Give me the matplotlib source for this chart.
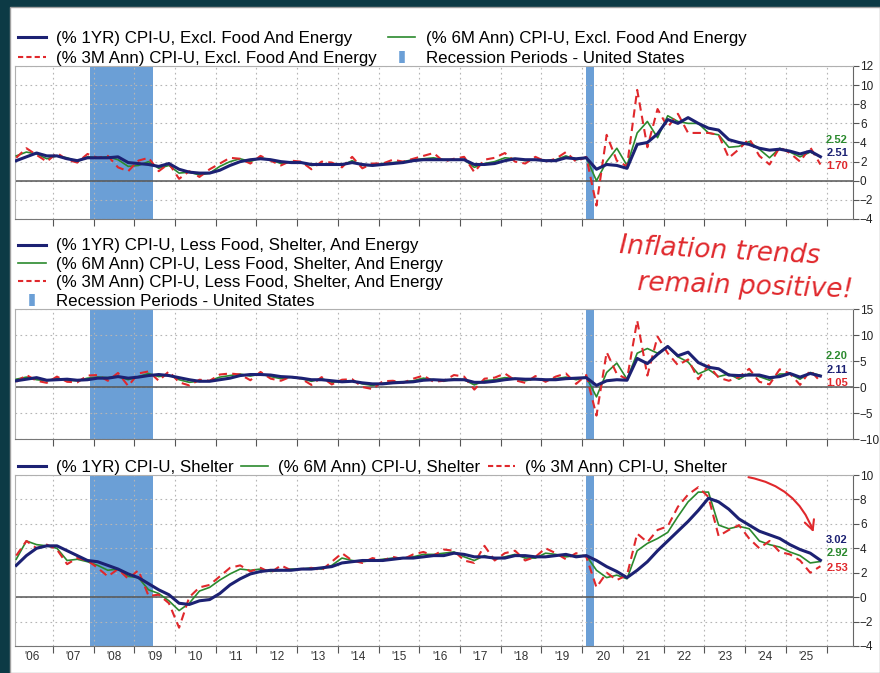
import numpy as np
import matplotlib
matplotlib.use("Agg")
import matplotlib.pyplot as plt
from matplotlib.lines import Line2D
from matplotlib.patches import Rectangle
import matplotlib.transforms as mtransforms

plt.rcParams["font.family"] = ["Liberation Sans", "DejaVu Sans"]

# quarterly readings (Feb, May, Aug, Nov) 2006 - 2025
dates = [y + m for y in range(2006, 2026) for m in (0.1, 0.35, 0.6, 0.85)]

recessions = [(2007.92, 2009.46), (2020.09, 2020.29)]

# panel 1: CPI-U excl. food and energy
core_1yr = [2.1, 2.5, 2.9, 2.6,  2.6, 2.3, 2.1, 2.4,  2.4, 2.4, 2.5, 1.9,  1.8, 1.7, 1.5, 1.8,
            1.2, 0.9, 0.8, 0.8,  1.1, 1.6, 2.0, 2.2,  2.3, 2.2, 2.0, 1.9,  1.9, 1.7, 1.7, 1.7,
            1.7, 1.9, 1.7, 1.6,  1.7, 1.8, 1.9, 2.1,  2.2, 2.2, 2.2, 2.2,  2.2, 1.7, 1.7, 1.8,
            2.1, 2.3, 2.2, 2.2,  2.1, 2.1, 2.4, 2.3,  2.4, 1.2, 1.7, 1.6,  1.3, 3.8, 4.0, 4.9,
            6.4, 6.0, 6.6, 6.0,  5.5, 5.3, 4.3, 4.0,  3.8, 3.4, 3.2, 3.3,  3.1, 2.8, 3.1, 2.51]
core_6m = [2.6, 3.0, 2.8, 2.3,  2.6, 2.4, 2.0, 2.5,  2.4, 2.5, 2.2, 1.5,  1.6, 2.0, 1.3, 1.6,
           0.8, 0.9, 0.6, 0.8,  1.5, 2.0, 2.3, 2.0,  2.4, 2.2, 1.8, 2.0,  1.9, 1.6, 1.7, 1.8,
           1.6, 2.1, 1.6, 1.6,  1.8, 1.9, 2.0, 2.2,  2.3, 2.4, 2.2, 2.2,  2.2, 1.4, 1.8, 2.0,
           2.4, 2.3, 2.1, 2.2,  2.1, 2.2, 2.6, 2.2,  2.4, 0.0, 2.0, 3.4,  1.6, 5.0, 6.2, 4.5,
           6.8, 6.2, 6.0, 6.0,  5.0, 4.8, 3.5, 3.6,  4.1, 3.3, 2.4, 3.4,  3.0, 2.5, 3.0, 2.52]
core_3m = [2.4, 3.4, 2.7, 2.0,  2.9, 2.2, 1.9, 2.8,  2.4, 2.6, 1.4, 1.0,  2.1, 2.4, 1.0, 1.8,
           0.2, 1.0, 0.4, 1.2,  1.8, 2.4, 2.3, 1.8,  2.6, 2.1, 1.6, 2.1,  2.0, 1.2, 2.0, 1.9,
           1.4, 2.5, 1.3, 1.8,  1.8, 2.2, 2.0, 2.3,  2.6, 2.9, 2.0, 2.3,  2.5, 0.9, 2.2, 2.4,
           2.9, 2.0, 1.8, 2.5,  2.0, 2.3, 3.0, 2.0,  2.5, -2.6, 4.8, 2.1,  1.5, 9.5, 3.5, 7.5,
           5.6, 7.0, 5.0, 5.0,  5.0, 4.8, 2.4, 3.3,  4.4, 2.6, 1.7, 3.5,  2.9, 2.0, 3.5, 1.70]

# panel 2: CPI-U less food, shelter and energy
xshel_1yr = [1.2, 1.5, 1.8, 1.3,  1.4, 1.5, 1.3, 1.4,  1.7, 1.7, 2.0, 1.7,  1.9, 2.2, 2.4, 2.2,
             1.8, 1.4, 1.1, 1.1,  1.4, 1.7, 2.2, 2.4,  2.4, 2.3, 2.0, 1.9,  1.7, 1.4, 1.4, 1.2,
             1.0, 1.1, 0.8, 0.6,  0.6, 0.8, 0.9, 1.0,  1.3, 1.4, 1.3, 1.4,  1.4, 0.9, 0.9, 1.1,
             1.4, 1.6, 1.5, 1.5,  1.4, 1.4, 1.6, 1.7,  1.8, 0.3, 1.2, 1.4,  1.3, 5.5, 4.5, 6.3,
             7.8, 6.0, 6.7, 4.7,  3.8, 3.5, 2.3, 2.2,  2.3, 2.3, 1.8, 2.0,  2.6, 1.9, 2.6, 2.11]
xshel_6m = [1.5, 1.9, 1.4, 1.2,  1.7, 1.3, 1.2, 1.7,  1.9, 1.8, 2.0, 1.4,  2.0, 2.6, 2.0, 2.3,
            1.4, 0.9, 1.1, 1.2,  1.9, 2.2, 2.5, 2.1,  2.5, 2.0, 1.6, 1.9,  1.6, 1.1, 1.6, 0.9,
            1.1, 1.2, 0.6, 0.3,  0.7, 1.0, 1.0, 1.2,  1.7, 1.4, 1.1, 1.6,  1.4, 0.4, 1.2, 1.4,
            1.8, 1.6, 1.2, 1.6,  1.3, 1.6, 1.9, 1.4,  1.9, -1.9, 2.8, 4.6,  1.5, 6.5, 7.4, 6.5,
            7.8, 5.8, 4.8, 2.5,  3.4, 2.0, 2.5, 1.5,  2.6, 2.0, 1.3, 2.5,  2.5, 1.5, 2.8, 2.20]
xshel_3m = [1.0, 2.3, 1.2, 0.8,  2.0, 1.0, 0.9, 2.2,  2.3, 1.2, 2.7, 0.2,  2.6, 3.0, 1.2, 3.0,
            0.9, 0.3, 1.4, 1.2,  2.4, 2.6, 2.4, 1.3,  2.9, 1.6, 1.2, 2.0,  1.6, 0.4, 1.9, 0.5,
            1.4, 1.5, 0.0, -0.4,  1.1, 1.2, 0.8, 1.6,  2.2, 1.0, 1.2, 2.3,  2.0, -0.5, 1.6, 1.8,
            2.6, 1.3, 0.8, 2.1,  1.0, 2.0, 2.6, 0.6,  2.3, -5.5, 6.7, 2.5,  1.5, 12.8, 2.2, 9.7,
            6.5, 4.2, 5.3, 1.5,  4.2, 1.8, 1.2, 1.9,  3.5, 1.0, 0.5, 3.4,  2.6, 0.4, 3.2, 1.05]

# panel 3: CPI-U shelter
shel_1yr = [2.6, 3.4, 4.0, 4.2,  4.2, 3.8, 3.4, 3.0,  2.9, 2.6, 2.3, 1.9,  1.6, 1.1, 0.6, 0.2,
            -0.5, -0.6, -0.3, -0.2,  0.3, 1.0, 1.5, 1.9,  2.1, 2.2, 2.2, 2.2,  2.3, 2.3, 2.4, 2.5,
            2.8, 2.9, 3.0, 3.0,  3.0, 3.1, 3.2, 3.2,  3.3, 3.4, 3.4, 3.6,  3.5, 3.3, 3.3, 3.2,
            3.2, 3.4, 3.4, 3.3,  3.3, 3.4, 3.5, 3.3,  3.4, 3.0, 2.5, 2.1,  1.6, 2.2, 2.9, 3.8,
            4.6, 5.4, 6.2, 7.1,  8.1, 7.8, 7.2, 6.4,  5.9, 5.4, 5.1, 4.8,  4.3, 3.9, 3.6, 3.02]
shel_6m = [3.1, 4.6, 4.3, 4.2,  4.0, 3.0, 3.1, 2.9,  2.6, 2.2, 2.3, 1.7,  1.6, 0.6, 0.3, -0.3,
           -1.1, -0.5, 0.5, 0.8,  1.4, 1.9, 2.3, 2.2,  2.3, 2.1, 2.2, 2.3,  2.3, 2.4, 2.3, 2.6,
           3.2, 3.0, 2.9, 3.0,  3.1, 3.2, 3.2, 3.3,  3.5, 3.5, 3.6, 3.7,  3.3, 3.0, 3.4, 3.1,
           3.3, 3.5, 3.2, 3.2,  3.6, 3.5, 3.3, 3.4,  3.4, 2.2, 1.6, 1.8,  1.5, 3.8, 4.4, 4.8,
           5.3, 6.6, 7.8, 8.6,  8.6, 5.9, 5.6, 5.8,  5.6, 4.6, 4.3, 4.1,  3.7, 3.4, 2.8, 2.92]
shel_3m = [3.4, 4.6, 4.0, 4.3,  3.9, 2.7, 3.2, 3.0,  2.4, 1.7, 2.3, 1.5,  2.2, 0.1, 0.2, -0.5,
           -2.5, 0.0, 0.8, 1.0,  1.7, 2.4, 2.6, 2.1,  2.4, 2.0, 2.6, 2.2,  2.3, 2.4, 2.2, 2.9,
           3.6, 3.0, 2.8, 3.2,  3.0, 3.3, 3.1, 3.5,  3.7, 3.4, 3.9, 3.8,  3.0, 2.8, 4.2, 3.0,
           3.6, 3.8, 3.0, 3.3,  4.0, 3.6, 3.1, 3.6,  3.3, 0.8, 2.0, 1.4,  1.8, 5.2, 4.5, 5.5,
           5.8, 7.4, 8.4, 9.0,  8.2, 5.0, 5.5, 5.9,  4.8, 4.0, 4.6, 3.7,  3.5, 3.0, 2.0, 2.53]

year_labels = ["'%02d" % (y % 100) for y in range(2006, 2026)]

NAVY = "#1c2173"
GREEN = "#2b8a2e"
RED = "#e0282c"
REC = "#6b9fd6"
FS = 12.2

fig = plt.figure(figsize=(8.8, 6.73), dpi=100, facecolor="#0c3a45")
fig.patches.append(Rectangle((10 / 880, 0), 870 / 880, 666 / 673, transform=fig.transFigure,
                             facecolor="white", edgecolor="#a0a0a0", lw=1, zorder=-10))


def draw_panel(ax, one_yr, six_m, three_m, ylim, ystep, ends):
    ax.set_facecolor("none")
    for a, b in recessions:
        ax.axvspan(a, b, color=REC, lw=0, zorder=1)
    ax.set_xlim(2006.07, 2026.65)
    ax.set_ylim(*ylim)
    ax.set_xticks(range(2007, 2027))
    ax.set_xticks([y + 0.5 for y in range(2006, 2026)], minor=True)
    ax.set_yticks(np.arange(ylim[0], ylim[1] + 0.1, ystep))
    ax.yaxis.tick_right()
    ax.grid(True, which="major", color="#b5b5b5", ls=(0, (1.5, 3)), lw=0.8, zorder=0)
    ax.axhline(0, color="#555555", lw=1.1, zorder=2)
    ax.plot(dates, six_m, color=GREEN, lw=1.2, zorder=3)
    ax.plot(dates, three_m, color=RED, lw=1.5, ls=(0, (4, 2.5)), zorder=3)
    ax.plot(dates, one_yr, color=NAVY, lw=2.2, zorder=4)
    ax.tick_params(axis="x", which="major", length=5, color="#555555", labelbottom=False)
    ax.tick_params(axis="x", which="minor", length=0, labelsize=8.5, labelcolor="#333333")
    ax.tick_params(axis="y", length=4, color="#555555", labelsize=8.5, labelcolor="#222222", pad=1)
    for side in ("left", "top"):
        ax.spines[side].set_color("#b0b0b0")
    ax.spines["right"].set_color("#666666")
    ax.spines["bottom"].set_color("#777777")
    trans = mtransforms.blended_transform_factory(ax.transAxes, ax.transData)
    for val, col, ypos in ends:
        ax.text(0.994, ypos, val, color=col, fontsize=8, fontweight="bold",
                ha="right", va="center", transform=trans, zorder=5)


ax1 = fig.add_axes([15 / 880, 1 - 219 / 673, 838 / 880, 153 / 673])
ax2 = fig.add_axes([15 / 880, 1 - 439 / 673, 838 / 880, 130 / 673])
ax3 = fig.add_axes([15 / 880, 1 - 646 / 673, 838 / 880, 171 / 673])

draw_panel(ax1, core_1yr, core_6m, core_3m, (-4, 12), 2,
           [("2.52", GREEN, 4.3), ("2.51", NAVY, 2.9), ("1.70", RED, 1.55)])
draw_panel(ax2, xshel_1yr, xshel_6m, xshel_3m, (-10, 15), 5,
           [("2.20", GREEN, 6.0), ("2.11", NAVY, 3.3), ("1.05", RED, 0.8)])
draw_panel(ax3, shel_1yr, shel_6m, shel_3m, (-4, 10), 2,
           [("3.02", NAVY, 4.7), ("2.92", GREEN, 3.6), ("2.53", RED, 2.4)])
ax3.set_xticklabels(year_labels, minor=True)

h_navy = Line2D([], [], color=NAVY, lw=2.2)
h_green = Line2D([], [], color=GREEN, lw=1.2)
h_red = Line2D([], [], color=RED, lw=1.5, ls=(0, (2.5, 1.5)))
h_rec = Line2D([], [], color=REC, marker="|", ms=9, mew=4, ls="none")

leg_kw = dict(loc="lower left", frameon=False, fontsize=FS, handlelength=1.6,
              handletextpad=0.6, borderpad=0.1, borderaxespad=0.1)

ax1.legend([h_navy, h_red, h_green, h_rec],
           ["(% 1YR) CPI-U, Excl. Food And Energy", "(% 3M Ann) CPI-U, Excl. Food And Energy",
            "(% 6M Ann) CPI-U, Excl. Food And Energy", "Recession Periods - United States"],
           ncol=2, columnspacing=0.7, labelspacing=0.27,
           bbox_to_anchor=(0, 1 - 3 / 153), **leg_kw)
ax2.legend([h_navy, h_green, h_red, h_rec],
           ["(% 1YR) CPI-U, Less Food, Shelter, And Energy",
            "(% 6M Ann) CPI-U, Less Food, Shelter, And Energy",
            "(% 3M Ann) CPI-U, Less Food, Shelter, And Energy",
            "Recession Periods - United States"],
           ncol=1, labelspacing=0.2, bbox_to_anchor=(0, 1 - 3 / 130), **leg_kw)
ax3.legend([h_navy, h_green, h_red],
           ["(% 1YR) CPI-U, Shelter", "(% 6M Ann) CPI-U, Shelter", "(% 3M Ann) CPI-U, Shelter"],
           ncol=3, columnspacing=0.45, bbox_to_anchor=(0, 1 - 3 / 171), **leg_kw)

# handwritten note
fig.text(720 / 880, 1 - 251 / 673, "Inflation trends", color=RED, fontsize=19,
         style="italic", family="DejaVu Sans", ha="center", va="center", rotation=-3)
fig.text(745 / 880, 1 - 287 / 673, "remain positive!", color=RED, fontsize=19,
         style="italic", family="DejaVu Sans", ha="center", va="center", rotation=-2)
ax3.annotate("", xy=(0.954, 0.65), xytext=(0.872, 0.99), xycoords="axes fraction",
             arrowprops=dict(arrowstyle="->,head_length=0.7,head_width=0.35", color=RED,
                             lw=1.5, connectionstyle="arc3,rad=-0.3"), annotation_clip=False)

fig.savefig("out.png", dpi=100, facecolor=fig.get_facecolor())
